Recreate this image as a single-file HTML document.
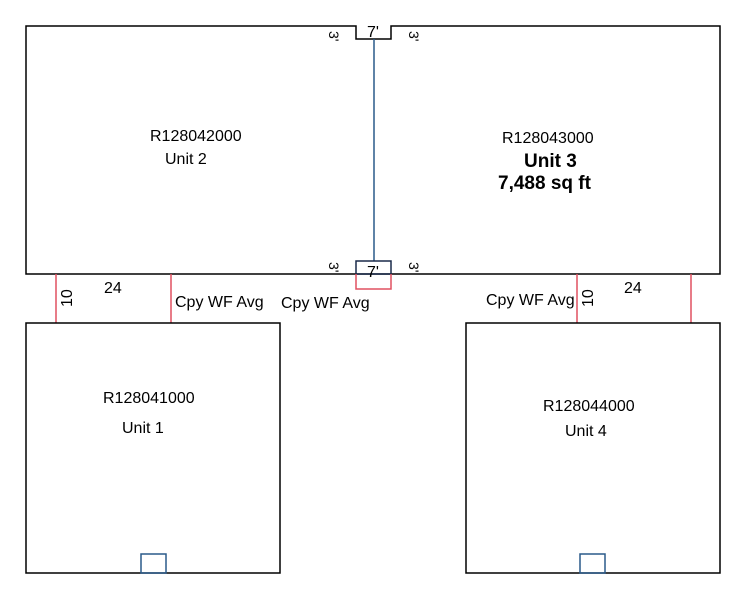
<!DOCTYPE html>
<html><head><style>
body{margin:0;background:#fff;}
svg text{font-family:"Liberation Sans",sans-serif;fill:#000;}
</style></head><body>
<svg width="746" height="595" xmlns="http://www.w3.org/2000/svg" font-size="16">
<g fill="none" stroke-width="1.5">
<path d="M26 26 H356 V39 H391 V26 H720 V274 H26 Z" stroke="#000"/>
<line x1="374" y1="39" x2="374" y2="261" stroke="#2a5a8a"/>
<rect x="356" y="261" width="35" height="13" stroke="#1a2a4a"/>
<path d="M356 274 V289 H391 V274" stroke="#e05060"/>
<line x1="56" y1="274" x2="56" y2="323" stroke="#e05060"/>
<line x1="171" y1="274" x2="171" y2="323" stroke="#e05060"/>
<line x1="577" y1="274" x2="577" y2="323" stroke="#e05060"/>
<line x1="691" y1="274" x2="691" y2="323" stroke="#e05060"/>
<rect x="26" y="323" width="254" height="250" stroke="#000"/>
<rect x="466" y="323" width="254" height="250" stroke="#000"/>
<rect x="141" y="554" width="25" height="19" stroke="#2a5a8a"/>
<rect x="580" y="554" width="25" height="19" stroke="#2a5a8a"/>
</g>
<text x="367" y="37" style="font-size:16px">7'</text>
<text x="367" y="277" style="font-size:16px">7'</text>
<text transform="translate(329,31) rotate(90)" style="font-size:14px">3'</text>
<text transform="translate(409,31) rotate(90)" style="font-size:14px">3'</text>
<text transform="translate(329,262) rotate(90)" style="font-size:14px">3'</text>
<text transform="translate(409,262) rotate(90)" style="font-size:14px">3'</text>
<text x="150" y="141">R128042000</text>
<text x="165" y="164">Unit 2</text>
<text x="502" y="143">R128043000</text>
<text x="524" y="167" style="font-size:19px;font-weight:bold">Unit 3</text>
<text x="498" y="189" style="font-size:19px;font-weight:bold">7,488 sq ft</text>
<text x="104" y="293">24</text>
<text transform="translate(72,307) rotate(-90)">10</text>
<text x="175" y="307">Cpy WF Avg</text>
<text x="281" y="308">Cpy WF Avg</text>
<text x="486" y="305">Cpy WF Avg</text>
<text transform="translate(593,307) rotate(-90)">10</text>
<text x="624" y="293">24</text>
<text x="103" y="403">R128041000</text>
<text x="122" y="433">Unit 1</text>
<text x="543" y="411">R128044000</text>
<text x="565" y="436">Unit 4</text>
</svg>
</body></html>
